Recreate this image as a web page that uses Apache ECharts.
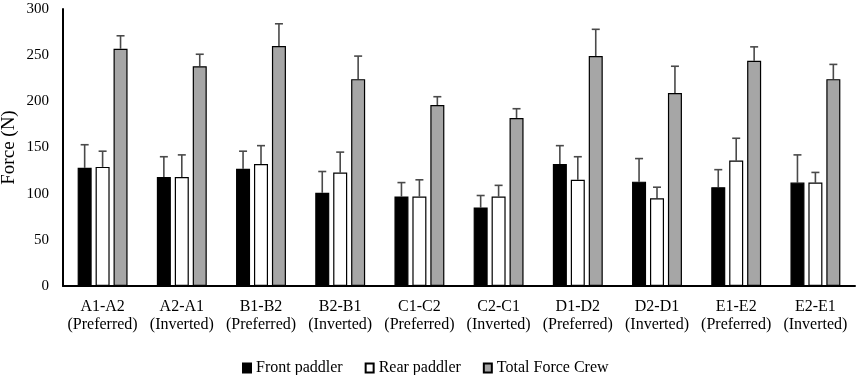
<!DOCTYPE html>
<html>
<head>
<meta charset="utf-8">
<script src="https://cdn.jsdelivr.net/npm/echarts@6/dist/echarts.min.js"></script>
<style>
	html, body { margin: 0; padding: 0; background: #fff; }
	#chart { width: 858px; height: 375px; }
</style>
</head>
<body>
<div id="chart"></div>
<script>
	var categories = ['A1-A2\n(Preferred)', 'A2-A1\n(Inverted)', 'B1-B2\n(Preferred)', 'B2-B1\n(Inverted)',
		'C1-C2\n(Preferred)', 'C2-C1\n(Inverted)', 'D1-D2\n(Preferred)', 'D2-D1\n(Inverted)',
		'E1-E2\n(Preferred)', 'E2-E1\n(Inverted)'];
	var seriesNames = ['Front paddler', 'Rear paddler', 'Total Force Crew'];

	var frontMean = [128, 118, 127, 101, 97, 85, 132, 113, 107, 112];
	var frontSd = [25, 22, 19, 23, 15, 13, 20, 25, 19, 30];
	var rearMean = [129, 118, 132, 123, 97, 97, 115, 95, 136, 112];
	var rearSd = [17, 24, 20, 22, 18, 12, 25, 12, 24, 11];
	var totalMean = [257, 238, 260, 224, 196, 182, 249, 209, 244, 224];
	var totalSd = [14, 13, 24, 25, 9, 10, 29, 29, 15, 16];

	var yTicks = [0, 50, 100, 150, 200, 250, 300];

	var means = [frontMean, rearMean, totalMean];
	var sds = [frontSd, rearSd, totalSd];
	var fills = ['#000000', '#ffffff', '#a6a6a6'];

	var barFrac = 0.177; // bar width as part of the category band
	var gapFrac = 0.28;  // gap as part of the bar width

	var font = 'Liberation Serif';
	var myChart = echarts.init(document.getElementById('chart'));

	function errorSeries(k) {
		return {
			type: 'custom',
			name: seriesNames[k] + ' SD',
			z: 1,
			silent: true,
			data: means[k].map(function(v, i) { return [i, v, v + sds[k][i]]; }),
			renderItem: function(params, api) {
				var band = api.size([1, 0])[0];
				var bw = band * barFrac;
				var off = (k - 1) * (bw + bw * gapFrac);
				var base = api.coord([api.value(0), api.value(1)]);
				var top = api.coord([api.value(0), api.value(2)]);
				var x = base[0] + off;
				var style = { stroke: '#4a4a4a', lineWidth: 1.6 };
				return {
					type: 'group',
					children: [
						{ type: 'line', shape: { x1: x, y1: base[1], x2: x, y2: top[1] }, style: style },
						{ type: 'line', shape: { x1: x - 4, y1: top[1], x2: x + 4, y2: top[1] }, style: style }
					]
				};
			}
		};
	}

	var series = [];
	for (var k = 0; k < 3; k++) {
		series.push({
			type: 'bar',
			name: seriesNames[k],
			data: means[k],
			barWidth: (barFrac * 100) + '%',
			barGap: (gapFrac * 100) + '%',
			z: 2,
			itemStyle: { color: fills[k], borderColor: '#000', borderWidth: 1.2 }
		});
	}
	for (var k = 0; k < 3; k++) {
		series.push(errorSeries(k));
	}

	var option = {
		animation: false,
		textStyle: { fontFamily: font },
		grid: { left: 63, right: 3, top: 9, bottom: 89, containLabel: false, outerBoundsMode: 'none' },
		legend: {
			data: seriesNames,
			left: 237,
			top: 355,
			icon: 'rect',
			itemWidth: 8,
			itemHeight: 9,
			itemGap: 22,
			textStyle: { fontFamily: font, fontSize: 16, color: '#000' }
		},
		xAxis: {
			type: 'category',
			data: categories,
			axisLine: { lineStyle: { color: '#000', width: 2 } },
			axisTick: { show: false },
			axisLabel: { fontFamily: font, fontSize: 16, color: '#000', margin: 12, lineHeight: 18, interval: 0 }
		},
		yAxis: {
			type: 'value',
			min: yTicks[0],
			max: yTicks[yTicks.length - 1],
			interval: yTicks[1] - yTicks[0],
			name: 'Force (N)',
			nameLocation: 'middle',
			nameGap: 44,
			nameMoveOverlap: false,
			nameTextStyle: { fontFamily: font, fontSize: 19, color: '#000' },
			axisLine: { show: true, lineStyle: { color: '#000', width: 2 } },
			axisTick: { show: false },
			splitLine: { show: false },
			axisLabel: { fontFamily: font, fontSize: 15, color: '#000', margin: 14 }
		},
		series: series
	};
	myChart.setOption(option);
</script>
</body>
</html>
